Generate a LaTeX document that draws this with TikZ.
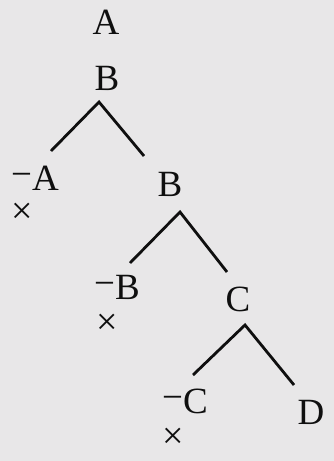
\documentclass[tikz,border=0pt]{standalone}
\usepackage{fontspec}
\setmainfont{Liberation Serif}
\definecolor{paper}{RGB}{232,231,232}
\definecolor{ink}{RGB}{15,15,15}
\newcommand{\negl}[1]{\raisebox{4pt}{−}#1}
\begin{document}
\begin{tikzpicture}[x=1pt,y=-1pt,
  lbl/.style={inner sep=0pt,text=ink,font=\fontsize{37}{40}\selectfont},
  cross/.style={inner sep=0pt,text=ink,font=\fontsize{38}{40}\selectfont},
  branch/.style={draw=ink,line width=2.8pt}]
\fill[paper] (0,0) rectangle (334,461);
\useasboundingbox (0,0) rectangle (334,461);
% nodes
\node[lbl] (a0) at (106,22) {A};
\node[lbl] (b1) at (107,78) {B};
\node[lbl] (na) at (35,178) {\negl{A}};
\node[cross] (x1) at (22,213) {×};
\node[lbl] (b2) at (170,184) {B};
\node[lbl] (nb) at (117,287) {\negl{B}};
\node[cross] (x2) at (107,324) {×};
\node[lbl] (c1) at (238,299) {C};
\node[lbl] (nc) at (185,401) {\negl{C}};
\node[cross] (x3) at (173,438) {×};
\node[lbl] (d1) at (311,412) {D};
% branch points
\coordinate (p1) at (99,102);
\coordinate (l1) at (51,151);
\coordinate (r1) at (144,156);
\coordinate (p2) at (180,212);
\coordinate (l2) at (130,263);
\coordinate (r2) at (227,272);
\coordinate (p3) at (245,325);
\coordinate (l3) at (193,375);
\coordinate (r3) at (294,385);
\draw[branch] (l1) -- (p1) -- (r1);
\draw[branch] (l2) -- (p2) -- (r2);
\draw[branch] (l3) -- (p3) -- (r3);
\end{tikzpicture}
\end{document}
